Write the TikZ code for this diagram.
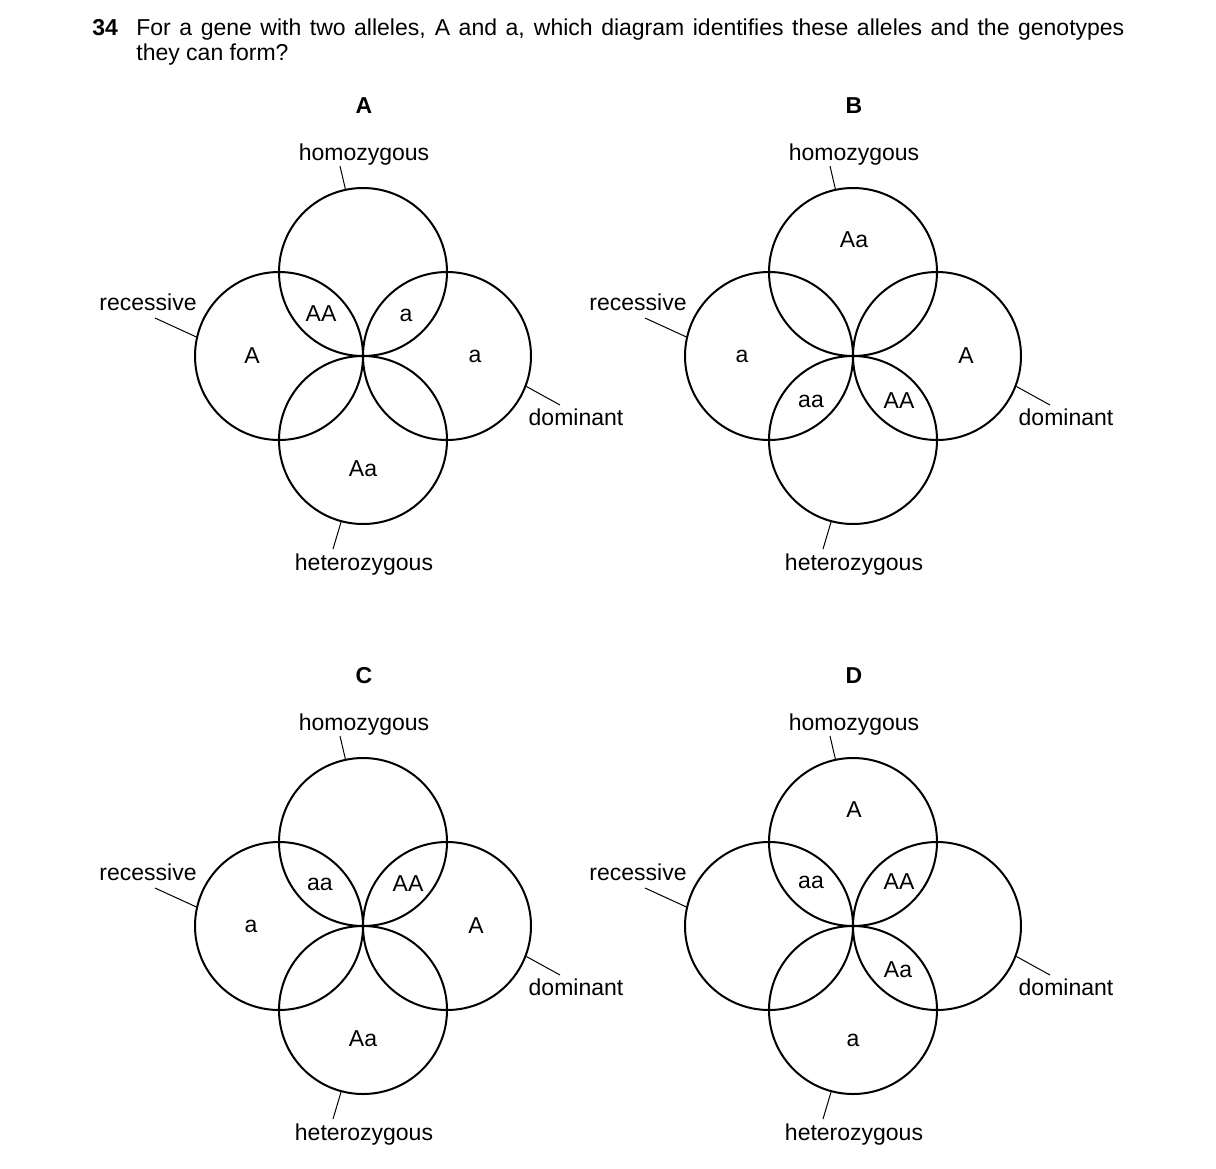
\documentclass[tikz,border=0pt]{standalone}
\usepackage{fontspec}
\setmainfont{Liberation Sans}
\tikzset{
  ring/.style={circle, draw, line width=1pt, minimum size=84pt, inner sep=0pt},
  lead/.style={line width=0.5pt},
  txt/.style={font=\fontsize{11.5}{12.5}\selectfont, inner sep=0pt},
  tag/.style={font=\fontsize{11.5}{12.5}\selectfont\bfseries, inner sep=0pt}
}
\begin{document}
\begin{tikzpicture}[x=0.5pt, y=-0.5pt, every node/.style={txt}]
    \useasboundingbox (0,0) rectangle (1216,1168);

    % question
    \node[tag, anchor=base west] (num) at (92,35) {34};
    \node[anchor=base west, text width=494pt, align=justify] (question) at (136,35)
        {For a gene with two alleles, A and a, which diagram identifies these alleles and the genotypes\linebreak they can form?};

    % the four diagrams
    \foreach \d/\cx/\cy in {A/363/356, B/853/356, C/363/926, D/853/926}{
        \begin{scope}[shift={(\cx,\cy)}]
            \node[tag] (tag\d) at (1,-250) {\d};
            \node[ring] (top\d) at (0,-84) {};
            \node[ring] (left\d) at (-84,0) {};
            \node[ring] (right\d) at (84,0) {};
            \node[ring] (bot\d) at (0,84) {};

            \node (hom\d) at (1,-201) {homozygous};
            \node (rec\d) at (-215,-54) {recessive};
            \node (dom\d) at (213,61) {dominant};
            \node (het\d) at (1,209) {heterozygous};

            \coordinate (homEnd\d) at (-23,-190);
            \coordinate (recEnd\d) at (-208,-38);
            \coordinate (domEnd\d) at (197,49);
            \coordinate (hetEnd\d) at (-30,193);
            \draw[lead] (homEnd\d) -- (top\d.102);
            \draw[lead] (recEnd\d) -- (left\d.167);
            \draw[lead] (domEnd\d) -- (right\d.-21);
            \draw[lead] (hetEnd\d) -- (bot\d.-105);
        \end{scope}
    }

    % A
    \begin{scope}[shift={(363,356)}]
        \node (A-ul) at (-42,-42) {AA};
        \node (A-ur) at (43,-41) {a};
        \node (A-l) at (-111,0) {A};
        \node (A-r) at (112,0) {a};
        \node (A-b) at (0,113) {Aa};
    \end{scope}

    % B
    \begin{scope}[shift={(853,356)}]
        \node (B-t) at (1,-116) {Aa};
        \node (B-l) at (-111,0) {a};
        \node (B-r) at (113,0) {A};
        \node (B-bl) at (-42,45) {aa};
        \node (B-br) at (46,45) {AA};
    \end{scope}

    % C
    \begin{scope}[shift={(363,926)}]
        \node (C-ul) at (-43,-42) {aa};
        \node (C-ur) at (45,-42) {AA};
        \node (C-l) at (-112,0) {a};
        \node (C-r) at (113,0) {A};
        \node (C-b) at (0,113) {Aa};
    \end{scope}

    % D
    \begin{scope}[shift={(853,926)}]
        \node (D-t) at (1,-116) {A};
        \node (D-ul) at (-42,-44) {aa};
        \node (D-ur) at (46,-44) {AA};
        \node (D-br) at (45,44) {Aa};
        \node (D-b) at (0,114) {a};
    \end{scope}

\end{tikzpicture}
\end{document}
